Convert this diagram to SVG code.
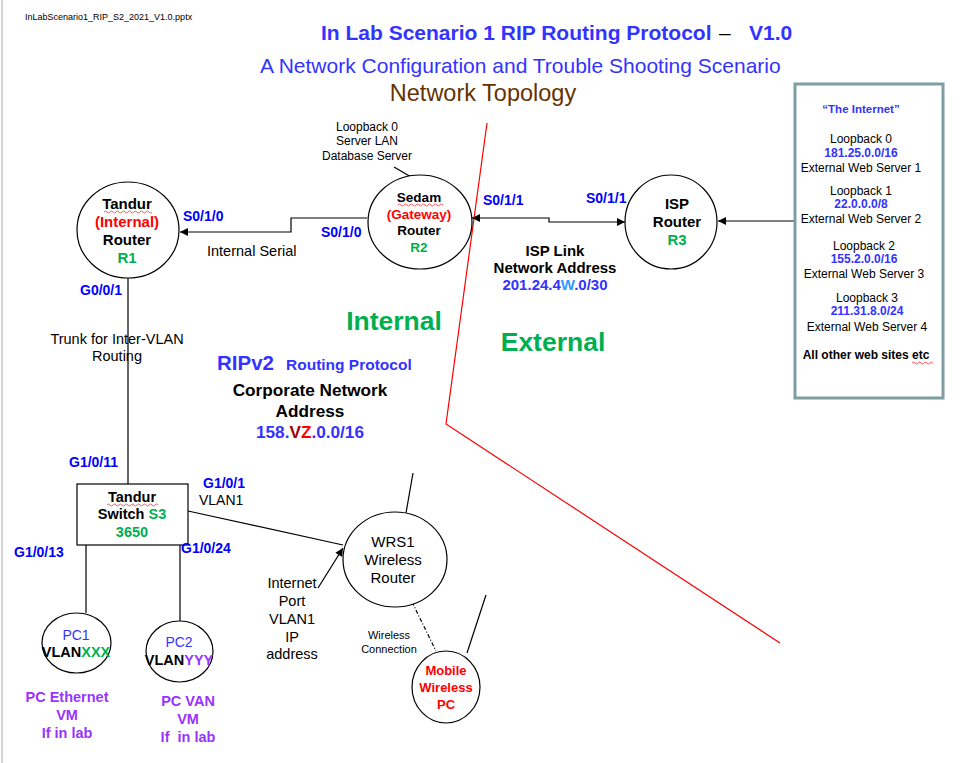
<svg xmlns="http://www.w3.org/2000/svg" width="977" height="763" viewBox="0 0 977 763">
<defs>
<style>
text{font-family:"Liberation Sans",Arial,sans-serif;fill:#000}
.b{font-weight:bold}
.m{text-anchor:middle}
.blue{fill:#3333ff}
.pb{fill:#0000ff;font-weight:bold;font-size:14px}
.grn{fill:#00b050}
.red{fill:#ff0000}
.pur{fill:#9933ff}
.node{fill:#fff;stroke:#000;stroke-width:1.2}
.ln{fill:none;stroke:#000;stroke-width:1.2}
.sq{fill:none;stroke:#ff3030;stroke-width:0.8}
</style>
<marker id="ah" viewBox="0 0 10 10" refX="10" refY="5" markerWidth="9" markerHeight="8" markerUnits="userSpaceOnUse" orient="auto-start-reverse">
<path d="M0,0 L10,5 L0,10 z" fill="#000"/>
</marker>
</defs>
<rect x="0" y="0" width="977" height="763" fill="#fff"/>
<line x1="2" y1="0" x2="2" y2="763" stroke="#d4d4d4" stroke-width="2"/>

<g id="header">
<text x="25" y="20" font-size="9">InLabScenario1_RIP_S2_2021_V1.0.pptx</text>
<text x="321" y="40" font-size="21" class="b blue">In Lab Scenario 1 RIP Routing Protocol</text>
<text x="719" y="40" font-size="21">–</text>
<text x="749" y="40" font-size="21" class="b blue">V1.0</text>
<text x="260" y="73" font-size="21" class="blue">A Network Configuration and Trouble Shooting Scenario</text>
<text x="483" y="101" font-size="23.5" class="m" style="fill:#663300">Network Topology</text>
</g>

<g id="boundary">
<polyline points="487,123 446,424 780,643" fill="none" stroke="#ff0000" stroke-width="1.2"/>
</g>

<g id="connectors">
<path class="ln" d="M367,218 H291 V232 H180" marker-end="url(#ah)"/>
<path class="ln" d="M472,218 H549 V222 H625" marker-start="url(#ah)" marker-end="url(#ah)"/>
<path class="ln" d="M795,221 H718" marker-end="url(#ah)"/>
<path class="ln" d="M394,167 L423,184" marker-end="url(#ah)"/>
<path class="ln" d="M128,278 V484"/>
<path class="ln" d="M188,511 L343,545"/>
<path class="ln" d="M86,545 V613"/>
<path class="ln" d="M180,545 V621"/>
<path class="ln" d="M318,588 L343,548" marker-end="url(#ah)"/>
<path class="ln" d="M412,602 L436,651" stroke-dasharray="4,2,1,2"/>
<path class="ln" d="M406,513 L413,473"/>
<path class="ln" d="M467,653 L486,595"/>
</g>

<g id="R1">
<ellipse class="node" cx="128" cy="230" rx="51" ry="48"/>
<text x="127" y="209" font-size="15" class="b m">Tandur</text>
<path class="sq" d="M104,212 q1.5,-2 3,0 t3,0 t3,0 t3,0 t3,0 t3,0 t3,0 t3,0 t3,0 t3,0 t3,0 t3,0 t3,0 t3,0 t3,0 t3,0"/>
<text x="127" y="227" font-size="15" class="b m red">(Internal)</text>
<text x="127" y="245" font-size="15" class="b m">Router</text>
<text x="127" y="263" font-size="15" class="b m grn">R1</text>
</g>

<g id="R2">
<ellipse class="node" cx="420" cy="222" rx="52" ry="47"/>
<text x="419" y="202" font-size="13.5" class="b m">Sedam</text>
<path class="sq" d="M398,205 q1.5,-2 3,0 t3,0 t3,0 t3,0 t3,0 t3,0 t3,0 t3,0 t3,0 t3,0 t3,0 t3,0 t3,0 t3,0 t3,0"/>
<text x="419" y="219" font-size="13.5" class="b m red">(Gateway)</text>
<text x="419" y="235" font-size="13.5" class="b m">Router</text>
<text x="419" y="252" font-size="13.5" class="b m grn">R2</text>
</g>

<g id="R3">
<ellipse class="node" cx="671" cy="222" rx="46" ry="47"/>
<text x="677" y="209" font-size="15" class="b m">ISP</text>
<text x="677" y="227" font-size="15" class="b m">Router</text>
<text x="677" y="245" font-size="15" class="b m grn">R3</text>
</g>

<g id="internet">
<rect x="795" y="84" width="148" height="314" fill="#fff" stroke="#7f9ea1" stroke-width="3"/>
<text x="861" y="113" font-size="11.5" class="b m blue">“The Internet”</text>
<text x="861" y="143" font-size="12" class="m">Loopback 0</text>
<text x="861" y="157" font-size="12" class="b m blue">181.25.0.0/16</text>
<text x="861" y="172" font-size="12" class="m">External Web Server 1</text>
<text x="861" y="195" font-size="12" class="m">Loopback 1</text>
<text x="861" y="208" font-size="12" class="b m blue">22.0.0.0/8</text>
<text x="861" y="223" font-size="12" class="m">External Web Server 2</text>
<text x="864" y="250" font-size="12" class="m">Loopback 2</text>
<text x="864" y="263" font-size="12" class="b m blue">155.2.0.0/16</text>
<text x="864" y="278" font-size="12" class="m">External Web Server 3</text>
<text x="867" y="302" font-size="12" class="m">Loopback 3</text>
<text x="867" y="315" font-size="12" class="b m blue">211.31.8.0/24</text>
<text x="867" y="331" font-size="12" class="m">External Web Server 4</text>
<text x="866" y="359" font-size="12" class="b m">All other web sites etc</text>
<path class="sq" d="M912,363 q1.5,-2 3,0 t3,0 t3,0 t3,0 t3,0 t3,0 t3,0"/>
</g>

<g id="S3">
<rect class="node" x="77" y="484" width="111" height="61"/>
<text x="132" y="502" font-size="14.5" class="b m">Tandur</text>
<path class="sq" d="M107,505 q1.5,-2 3,0 t3,0 t3,0 t3,0 t3,0 t3,0 t3,0 t3,0 t3,0 t3,0 t3,0 t3,0 t3,0 t3,0 t3,0 t3,0 t3,0"/>
<text x="132" y="519" font-size="14.5" class="b m">Switch <tspan class="grn">S3</tspan></text>
<text x="132" y="537" font-size="14.5" class="b m grn">3650</text>
</g>

<g id="PC1">
<ellipse class="node" cx="76.5" cy="643" rx="34.5" ry="30"/>
<text x="76" y="640" font-size="14" class="m blue">PC1</text>
<text x="76" y="657" font-size="14.5" class="b m">VLAN<tspan class="grn">XXX</tspan></text>
</g>

<g id="PC2">
<ellipse class="node" cx="179.5" cy="651.5" rx="33.5" ry="30.5"/>
<text x="179" y="647" font-size="14" class="m blue">PC2</text>
<text x="179" y="665" font-size="14.5" class="b m">VLAN<tspan class="pur">YYY</tspan></text>
</g>

<g id="WRS1">
<ellipse class="node" cx="395" cy="559.5" rx="52" ry="47.5"/>
<text x="393" y="547" font-size="15" class="m">WRS1</text>
<text x="393" y="565" font-size="15" class="m">Wireless</text>
<text x="393" y="583" font-size="15" class="m">Router</text>
</g>

<g id="Mobile">
<ellipse class="node" cx="446" cy="687" rx="34" ry="36"/>
<text x="446" y="675" font-size="13" class="b m red">Mobile</text>
<text x="446" y="692" font-size="13" class="b m red">Wireless</text>
<text x="446" y="709" font-size="13" class="b m red">PC</text>
</g>

<g id="labels">
<text x="367" y="131" font-size="12" class="m">Loopback 0</text>
<text x="367" y="145" font-size="12" class="m">Server LAN</text>
<text x="367" y="160" font-size="12" class="m">Database Server</text>
<text x="183" y="221" class="pb">S0/1/0</text>
<text x="321" y="237" class="pb">S0/1/0</text>
<text x="207" y="256" font-size="14.5">Internal Serial</text>
<text x="483" y="205" class="pb">S0/1/1</text>
<text x="586" y="203" class="pb">S0/1/1</text>
<text x="555" y="256" font-size="15" class="b m">ISP Link</text>
<text x="555" y="273" font-size="15" class="b m">Network Address</text>
<text x="555" y="290" font-size="15" class="b m blue">201.24.4<tspan style="fill:#3399ff">W</tspan>.0/30</text>
<text x="394" y="330" font-size="26.5" class="b m grn">Internal</text>
<text x="553" y="351" font-size="26.5" class="b m grn">External</text>
<text x="217" y="370" font-size="20.5" class="b blue">RIPv2</text>
<text x="286" y="370" font-size="15.5" class="b blue">Routing Protocol</text>
<text x="310" y="396" font-size="17.2" class="b m">Corporate Network</text>
<text x="310" y="417" font-size="17.2" class="b m">Address</text>
<text x="310" y="438" font-size="17.2" class="b m blue">158.<tspan style="fill:#a00000">V</tspan><tspan class="red">Z</tspan>.0.0/16</text>
<text x="80" y="295" class="pb">G0/0/1</text>
<text x="117" y="344" font-size="14.5" class="m">Trunk for Inter-VLAN</text>
<text x="117" y="361" font-size="14.5" class="m">Routing</text>
<text x="69" y="467" class="pb">G1/0/11</text>
<text x="203" y="488" class="pb">G1/0/1</text>
<text x="199" y="505" font-size="14">VLAN1</text>
<text x="14" y="557" class="pb">G1/0/13</text>
<text x="181" y="553" class="pb">G1/0/24</text>
<text x="292" y="588" font-size="14.5" class="m">Internet</text>
<text x="292" y="606" font-size="14.5" class="m">Port</text>
<text x="292" y="624" font-size="14.5" class="m">VLAN1</text>
<text x="292" y="642" font-size="14.5" class="m">IP</text>
<text x="292" y="659" font-size="14.5" class="m">address</text>
<text x="389" y="639" font-size="11" class="m">Wireless</text>
<text x="389" y="653" font-size="11" class="m">Connection</text>
<text x="67" y="702" font-size="14.5" class="b m pur">PC Ethernet</text>
<text x="67" y="720" font-size="14.5" class="b m pur">VM</text>
<text x="67" y="738" font-size="14.5" class="b m pur">If in lab</text>
<text x="188" y="706" font-size="14.5" class="b m pur">PC VAN</text>
<text x="188" y="724" font-size="14.5" class="b m pur">VM</text>
<text x="188" y="742" font-size="14.5" class="b m pur" xml:space="preserve">If  in lab</text>
</g>
</svg>
